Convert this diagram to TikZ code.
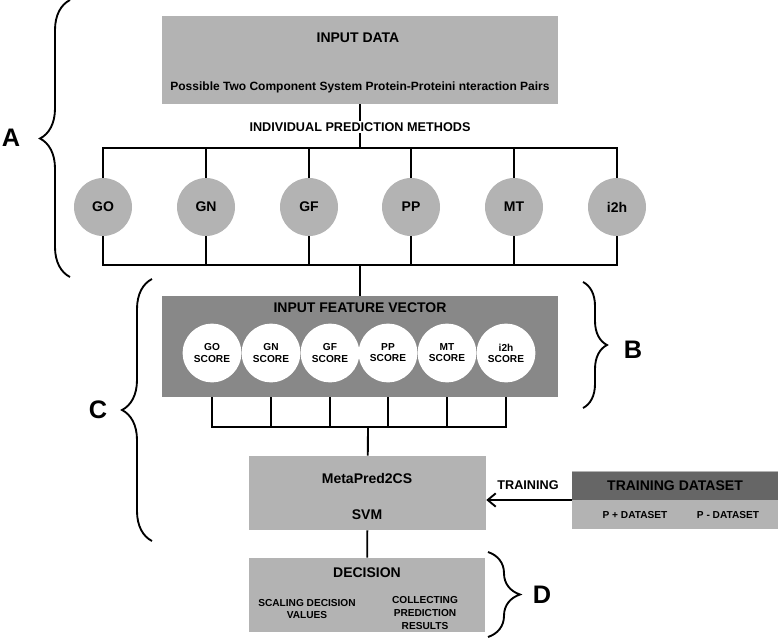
\documentclass[tikz,border=0pt]{standalone}
\usepackage{fontspec}
\setmainfont{Liberation Sans}
\usepackage{xcolor}
\usepackage{tikz}
\usetikzlibrary{positioning}
\usetikzlibrary{arrows.meta}
\usetikzlibrary{decorations.pathreplacing}
\pgfdeclarelayer{nodelayer}
\pgfdeclarelayer{edgelayer}
\pgfsetlayers{nodelayer,edgelayer,main}
\definecolor{lightbox}{HTML}{B3B3B3}
\definecolor{midbox}{HTML}{888888}
\definecolor{darkbox}{HTML}{666666}
\tikzset{
  panel/.style={rectangle, fill=lightbox, inner sep=0pt},
  method/.style={circle, fill=lightbox, minimum size=43.5pt, inner sep=0pt, font=\fontsize{10.5}{12}\selectfont\bfseries},
  score/.style={circle, fill=white, minimum size=44pt, inner sep=0pt, align=center, font=\fontsize{7.6}{8.3}\selectfont\bfseries},
  heading/.style={inner sep=1pt, font=\fontsize{10.5}{12}\selectfont\bfseries},
  smalltext/.style={inner sep=1pt, align=center, font=\fontsize{7.6}{9.5}\selectfont\bfseries},
  letter/.style={inner sep=0pt, font=\fontsize{19}{22}\selectfont\bfseries},
  wire/.style={line width=1.4pt},
  grouping/.style={line width=1.4pt, decorate, decoration={brace, amplitude=#1}},
}

\begin{document}
\begin{tikzpicture}[x=0.75pt, y=-0.75pt]
  \useasboundingbox (0,0) rectangle (778,639);
  \begin{pgfonlayer}{nodelayer}
    % boxes
    \node [panel, minimum width=297pt, minimum height=66pt] (input) at (360,60) {};
    \node [panel, fill=midbox, minimum width=297pt, minimum height=75.75pt] (fvec) at (360,346.5) {};
    \node [panel, minimum width=177.75pt, minimum height=55.5pt] (svm) at (367.5,493) {};
    \node [panel, minimum width=177pt, minimum height=55.5pt] (dec) at (367,595) {};
    \node [panel, minimum width=154.5pt, minimum height=43.5pt] (trainset) at (675,500) {};
    \node [panel, fill=darkbox, minimum width=154.5pt, minimum height=21pt, font=\fontsize{10.5}{12}\selectfont\bfseries] (trainhead) at (675,485.5) {TRAINING DATASET};
    % texts
    \node [heading] (inputtitle) at (358,38) {INPUT DATA};
    \node [heading, font=\fontsize{9}{11}\selectfont\bfseries] (inputpairs) at (360,87) {Possible Two Component System Protein-Proteini nteraction Pairs};
    \node [heading, font=\fontsize{9.5}{11}\selectfont\bfseries] (methods) at (360,127) {INDIVIDUAL PREDICTION METHODS};
    \node [heading] (fvtitle) at (360,308) {INPUT FEATURE VECTOR};
    \node [heading] (svmname) at (367,478) {MetaPred2CS};
    \node [heading] (svmtext) at (367,515) {SVM};
    \node [heading, font=\fontsize{9.5}{11}\selectfont\bfseries] (trainlabel) at (528,485) {TRAINING};
    \node [smalltext] (pos) at (635,515) {P + DATASET};
    \node [smalltext] (neg) at (728,515) {P - DATASET};
    \node [heading] (dectitle) at (367,573) {DECISION};
    \node [smalltext] (scaling) at (307,609) {SCALING DECISION\\VALUES};
    \node [smalltext] (collect) at (425,613) {COLLECTING\\PREDICTION\\RESULTS};
    % prediction methods
    \node [method] (go) at (103,207) {GO};
    \node [method] (gn) at (206,207) {GN};
    \node [method] (gf) at (309,207) {GF};
    \node [method] (pp) at (411,207) {PP};
    \node [method] (mt) at (514,207) {MT};
    \node [method] (i2h) at (617,207) {i2h};
    % scores
    \node [score] (gosc) at (212,353) {GO\\SCORE};
    \node [score] (gnsc) at (271,353) {GN\\SCORE};
    \node [score] (gfsc) at (330,353) {GF\\SCORE};
    \node [score] (ppsc) at (388,353) {PP\\SCORE};
    \node [score] (mtsc) at (447,353) {MT\\SCORE};
    \node [score] (i2hsc) at (506,353) {i2h\\SCORE};
    % letters
    \node [letter] (la) at (11,138) {A};
    \node [letter] (lb) at (633,350) {B};
    \node [letter] (lc) at (98,410) {C};
    \node [letter] (ld) at (542,595) {D};
    \coordinate (topbar) at (360,148);
    \coordinate (botbar) at (360,265);
    \coordinate (scorebar) at (368,427);
  \end{pgfonlayer}
  \begin{pgfonlayer}{edgelayer}
    \draw [wire] (input) to (methods);
    \draw [wire] (methods) to (topbar);
    \draw [wire] (go) |- (topbar) -| (i2h);
    \draw [wire] (gn) to (gn |- topbar);
    \draw [wire] (gf) to (gf |- topbar);
    \draw [wire] (pp) to (pp |- topbar);
    \draw [wire] (mt) to (mt |- topbar);
    \draw [wire] (go) |- (botbar) -| (i2h);
    \draw [wire] (gn) to (gn |- botbar);
    \draw [wire] (gf) to (gf |- botbar);
    \draw [wire] (pp) to (pp |- botbar);
    \draw [wire] (mt) to (mt |- botbar);
    \draw [wire] (botbar) to (fvec);
    \draw [wire] (gosc |- fvec.south) |- (scorebar) -| (i2hsc |- fvec.south);
    \draw [wire] (gnsc |- fvec.south) to (gnsc |- scorebar);
    \draw [wire] (gfsc |- fvec.south) to (gfsc |- scorebar);
    \draw [wire] (ppsc |- fvec.south) to (ppsc |- scorebar);
    \draw [wire] (mtsc |- fvec.south) to (mtsc |- scorebar);
    \draw [wire] (scorebar) to (svm);
    \draw [wire] (svm) to (dec);
    \draw [wire, -{Straight Barb[length=6pt, width=10pt]}] (trainset.west) to (svm.east |- trainset.west);
    % braces
    \draw [grouping=22.5pt] (70,277) to (70,0);
    \draw [grouping=18pt] (583,282) to (583,408);
    \draw [grouping=22.5pt] (152,541) to (152,279);
    \draw [grouping=24pt] (488,552) to (488,637);
  \end{pgfonlayer}
\end{tikzpicture}
\end{document}
